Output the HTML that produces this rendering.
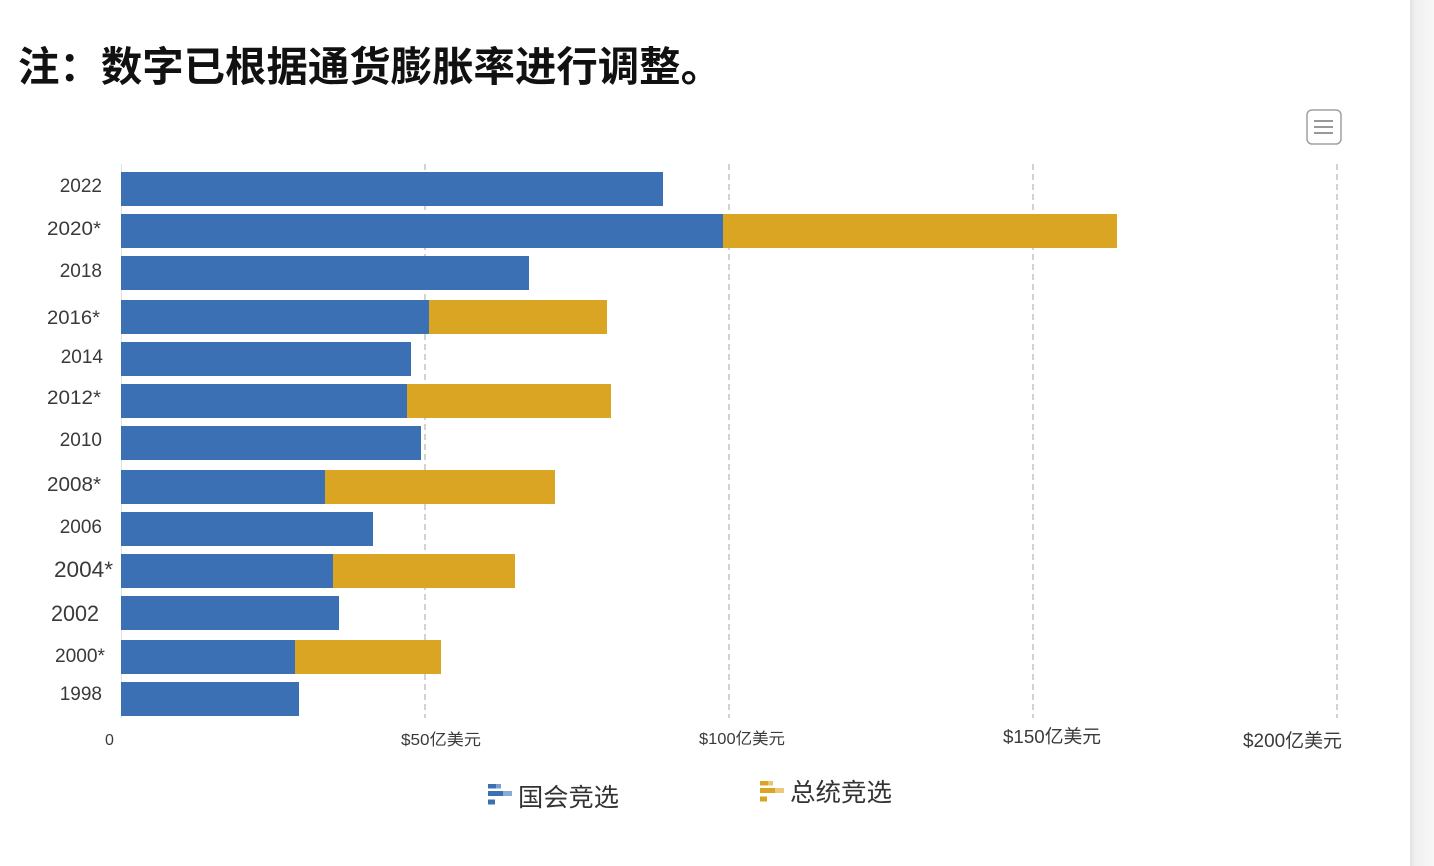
<!DOCTYPE html>
<html><head><meta charset="utf-8">
<style>
html,body{margin:0;padding:0;background:#fff;}
svg{display:block;}
text{font-family:"Liberation Sans","Noto Sans CJK SC",sans-serif;}
</style></head>
<body>
<svg width="1434" height="866" viewBox="0 0 1434 866" xmlns="http://www.w3.org/2000/svg">
<defs>
<linearGradient id="edge" x1="0" x2="1" y1="0" y2="0">
<stop offset="0" stop-color="#e2e2e2"/>
<stop offset="0.2" stop-color="#f0f0f0"/>
<stop offset="1" stop-color="#f7f7f7"/>
</linearGradient>
</defs>
<rect x="0" y="0" width="1434" height="866" fill="#fff"/>
<rect x="1410" y="0" width="24" height="866" fill="url(#edge)"/>

<!-- Title -->
<text x="18" y="81" font-size="41" font-weight="700" fill="#111" textLength="704" lengthAdjust="spacingAndGlyphs" style="font-family:'Noto Sans CJK SC',sans-serif">注：数字已根据通货膨胀率进行调整。</text>

<!-- Menu button -->
<rect x="1307" y="110" width="34" height="34" rx="5" ry="5" fill="#fff" stroke="#a0a0a0" stroke-width="1.5"/>
<g stroke="#999" stroke-width="2">
<line x1="1314" y1="121" x2="1333" y2="121"/>
<line x1="1314" y1="127" x2="1333" y2="127"/>
<line x1="1314" y1="133" x2="1333" y2="133"/>
</g>

<!-- gridlines -->
<g stroke="#c4c4c4" stroke-width="1.5" stroke-dasharray="6,4">
<line x1="425" y1="164" x2="425" y2="718"/>
<line x1="729" y1="164" x2="729" y2="718"/>
<line x1="1033" y1="164" x2="1033" y2="718"/>
<line x1="1337" y1="164" x2="1337" y2="718"/>
</g>
<line x1="121.5" y1="164" x2="121.5" y2="718" stroke="#e0e0e0" stroke-width="1"/>

<!-- bars -->
<g fill="#3c70b5">
<rect x="121" y="172" width="542" height="34"/>
<rect x="121" y="214" width="602" height="34"/>
<rect x="121" y="256" width="408" height="34"/>
<rect x="121" y="300" width="308" height="34"/>
<rect x="121" y="342" width="290" height="34"/>
<rect x="121" y="384" width="286" height="34"/>
<rect x="121" y="426" width="300" height="34"/>
<rect x="121" y="470" width="204" height="34"/>
<rect x="121" y="512" width="252" height="34"/>
<rect x="121" y="554" width="212" height="34"/>
<rect x="121" y="596" width="218" height="34"/>
<rect x="121" y="640" width="174" height="34"/>
<rect x="121" y="682" width="178" height="34"/>
</g>
<g fill="#d9a522">
<rect x="723" y="214" width="394" height="34"/>
<rect x="429" y="300" width="178" height="34"/>
<rect x="407" y="384" width="204" height="34"/>
<rect x="325" y="470" width="230" height="34"/>
<rect x="333" y="554" width="182" height="34"/>
<rect x="295" y="640" width="146" height="34"/>
</g>

<!-- y labels -->
<g fill="#3a3a3a" text-anchor="end">
<text x="102" y="192" font-size="19">2022</text>
<text x="101" y="235" font-size="19" textLength="54" lengthAdjust="spacingAndGlyphs">2020*</text>
<text x="102" y="277" font-size="19">2018</text>
<text x="100" y="324" font-size="19" textLength="53" lengthAdjust="spacingAndGlyphs">2016*</text>
<text x="103" y="363" font-size="19">2014</text>
<text x="101" y="404" font-size="19" textLength="54" lengthAdjust="spacingAndGlyphs">2012*</text>
<text x="102" y="446" font-size="19">2010</text>
<text x="101" y="491" font-size="20" textLength="54" lengthAdjust="spacingAndGlyphs">2008*</text>
<text x="102" y="533" font-size="19">2006</text>
<text x="113" y="577" font-size="22.5" textLength="59" lengthAdjust="spacingAndGlyphs">2004*</text>
<text x="99" y="621" font-size="22" textLength="48" lengthAdjust="spacingAndGlyphs">2002</text>
<text x="105" y="662" font-size="19" textLength="50" lengthAdjust="spacingAndGlyphs">2000*</text>
<text x="102" y="700" font-size="19">1998</text>
</g>

<!-- x labels -->
<g fill="#3a3a3a">
<text x="105" y="745" font-size="16">0</text>
<text x="401" y="745" font-size="16" textLength="80" lengthAdjust="spacingAndGlyphs">$50亿美元</text>
<text x="699" y="744" font-size="16" textLength="86" lengthAdjust="spacingAndGlyphs">$100亿美元</text>
<text x="1003" y="743" font-size="18.5" textLength="98" lengthAdjust="spacingAndGlyphs">$150亿美元</text>
<text x="1243" y="747" font-size="19" textLength="99" lengthAdjust="spacingAndGlyphs">$200亿美元</text>
</g>

<!-- legend -->
<g>
<rect x="488" y="784" width="8" height="4.5" fill="#3c70b5"/>
<rect x="496" y="784" width="5" height="4.5" fill="#7a9fd0"/>
<rect x="488" y="791" width="15" height="5" fill="#3c70b5"/>
<rect x="503" y="791" width="9" height="5" fill="#8aaad6"/>
<rect x="488" y="799.5" width="7" height="5" fill="#3c70b5"/>
<text x="518" y="806" font-size="25" fill="#333" textLength="101" lengthAdjust="spacingAndGlyphs" style="font-family:'Noto Sans CJK SC',sans-serif">国会竞选</text>

<rect x="760" y="781" width="8" height="4.5" fill="#d9a522"/>
<rect x="768" y="781" width="5" height="4.5" fill="#e8c66e"/>
<rect x="760" y="788" width="15" height="5" fill="#d9a522"/>
<rect x="775" y="788" width="9" height="5" fill="#ecc97a"/>
<rect x="760" y="796.5" width="7" height="5" fill="#d9a522"/>
<text x="790" y="801" font-size="25" fill="#333" textLength="102" lengthAdjust="spacingAndGlyphs" style="font-family:'Noto Sans CJK SC',sans-serif">总统竞选</text>
</g>
</svg>
</body></html>
